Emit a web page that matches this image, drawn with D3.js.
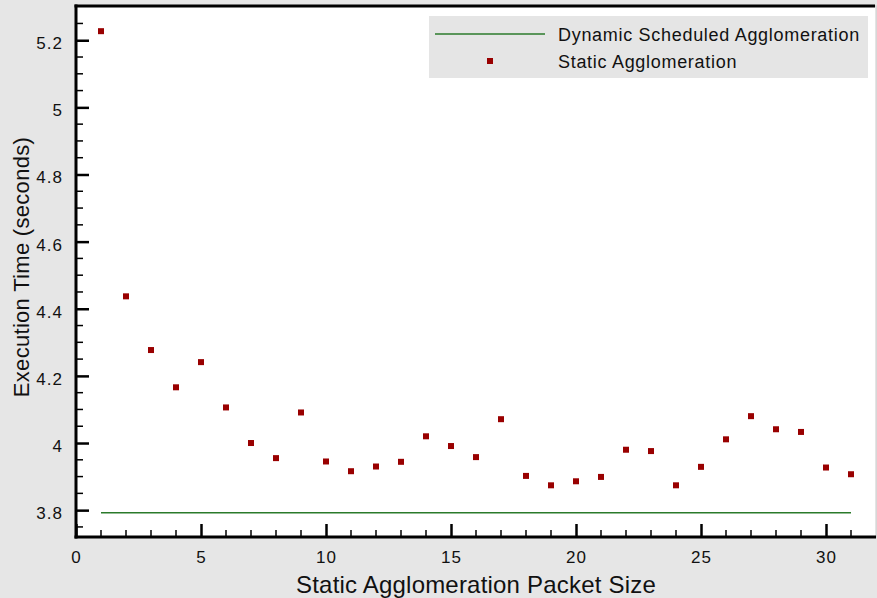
<!DOCTYPE html>
<html>
<head>
<meta charset="utf-8">
<script src="https://cdn.jsdelivr.net/npm/d3@7"></script>
<style>
  body { margin: 0; background: #e6e6e6; }
  svg { display: block; font-family: "Liberation Sans", Arial, sans-serif; }
</style>
</head>
<body>
<div id="chart"></div>
<script>
// data
const packetSizes = d3.range(1, 32);
const staticTimes = [5.227, 4.437, 4.277, 4.166, 4.241, 4.106, 4.000, 3.955, 4.091, 3.945,
  3.916, 3.930, 3.944, 4.020, 3.991, 3.958, 4.071, 3.902, 3.874, 3.886,
  3.899, 3.980, 3.976, 3.874, 3.929, 4.011, 4.080, 4.041, 4.033, 3.927, 3.907];
const dynamicTime = 3.792;
const dynamicRange = [1, 31];
const xTicks = [0, 5, 10, 15, 20, 25, 30];
const yTicks = [3.8, 4, 4.2, 4.4, 4.6, 4.8, 5, 5.2];
const seriesNames = ["Dynamic Scheduled Agglomeration", "Static Agglomeration"];

const width = 877, height = 598;
const margin = {top: 6, right: 1, bottom: 61, left: 76};
const innerW = width - margin.left - margin.right;
const innerH = height - margin.top - margin.bottom;

const svg = d3.select("#chart")
  .append("svg")
    .attr("width", width)
    .attr("height", height);

svg.append("rect")
  .attr("width", width).attr("height", height)
  .attr("fill", "#e6e6e6");

const g = svg.append("g")
  .attr("transform", `translate(${margin.left},${margin.top})`);

// plot area
g.append("rect")
  .attr("width", innerW).attr("height", innerH)
  .attr("fill", "white")
  .attr("stroke", "#c8c8c8")
  .attr("stroke-width", 1);

const x = d3.scaleLinear().domain([0, 32]).range([0, innerW]);
const y = d3.scaleLinear().domain([3.72, 5.302]).range([innerH, 0]);

// minor ticks
const xMinor = d3.range(1, 32).filter(v => v % 5 !== 0);
const yMinor = d3.range(3.75, 5.30, 0.05).filter(v => Math.abs(v * 5 - Math.round(v * 5)) > 0.01);

g.selectAll(".xminor")
  .data(xMinor)
  .join("line")
    .attr("x1", d => x(d)).attr("x2", d => x(d))
    .attr("y1", innerH).attr("y2", innerH - 7)
    .attr("stroke", "black").attr("stroke-width", 1.5);

g.selectAll(".yminor")
  .data(yMinor)
  .join("line")
    .attr("x1", 0).attr("x2", 7)
    .attr("y1", d => y(d)).attr("y2", d => y(d))
    .attr("stroke", "black").attr("stroke-width", 1.5);

// X axis
const xAxis = g.append("g")
  .attr("transform", `translate(0,${innerH})`)
  .call(d3.axisBottom(x).tickValues(xTicks).tickSizeInner(-13).tickSizeOuter(0).tickPadding(14));
xAxis.select(".domain").remove();
xAxis.selectAll(".tick line").attr("stroke-width", 2.5);
xAxis.selectAll("text")
  .style("font-size", "17px").style("letter-spacing", "1px")
  .attr("fill", "#111");

// Y axis
const yAxis = g.append("g")
  .call(d3.axisLeft(y).tickValues(yTicks).tickFormat(d3.format("")).tickSizeInner(-13).tickSizeOuter(0).tickPadding(13));
yAxis.select(".domain").remove();
yAxis.selectAll(".tick line").attr("stroke-width", 2.5);
yAxis.selectAll("text")
  .style("font-size", "17px").style("letter-spacing", "1px")
  .attr("dy", "0.5em")
  .attr("fill", "#111");

// frame lines: left, bottom, top
g.append("line").attr("x1", 0).attr("x2", 0).attr("y1", -1.5).attr("y2", innerH + 1.5)
  .attr("stroke", "black").attr("stroke-width", 3);
g.append("line").attr("x1", -1.5).attr("x2", innerW).attr("y1", innerH).attr("y2", innerH)
  .attr("stroke", "black").attr("stroke-width", 3);
g.append("line").attr("x1", -1.5).attr("x2", innerW - 1).attr("y1", 0).attr("y2", 0)
  .attr("stroke", "black").attr("stroke-width", 3);

// dynamic line
g.append("line")
  .attr("x1", x(dynamicRange[0])).attr("x2", x(dynamicRange[1]))
  .attr("y1", y(dynamicTime)).attr("y2", y(dynamicTime))
  .attr("stroke", "#2b7a2b").attr("stroke-width", 1.5);

// static points
g.selectAll(".pt")
  .data(packetSizes)
  .join("rect")
    .attr("x", (d, i) => x(d) - 3)
    .attr("y", (d, i) => y(staticTimes[i]) - 3)
    .attr("width", 6).attr("height", 6)
    .attr("fill", "#990000");

// legend
const legend = svg.append("g").attr("transform", "translate(429,16)");
legend.append("rect").attr("width", 439).attr("height", 62).attr("fill", "#e5e5e5");
legend.append("line").attr("x1", 6).attr("x2", 116).attr("y1", 18).attr("y2", 18)
  .attr("stroke", "#2b7a2b").attr("stroke-width", 1.5);
legend.append("rect").attr("x", 58).attr("y", 42).attr("width", 6).attr("height", 6)
  .attr("fill", "#990000");
legend.selectAll(".lt")
  .data(seriesNames)
  .join("text")
    .attr("x", 129)
    .attr("y", (d, i) => 25 + i * 27)
    .style("font-size", "18px")
    .style("letter-spacing", "0.7px")
    .attr("fill", "#111")
    .text(d => d);

// axis titles
svg.append("text")
  .attr("x", 476).attr("y", 593)
  .attr("text-anchor", "middle")
  .style("font-size", "24px")
  .style("letter-spacing", "0.2px")
  .attr("fill", "#111")
  .text("Static Agglomeration Packet Size");

svg.append("text")
  .attr("transform", "translate(29,267) rotate(-90)")
  .attr("text-anchor", "middle")
  .style("font-size", "22px")
  .style("letter-spacing", "0.3px")
  .attr("fill", "#111")
  .text("Execution Time (seconds)");
</script>
</body>
</html>
